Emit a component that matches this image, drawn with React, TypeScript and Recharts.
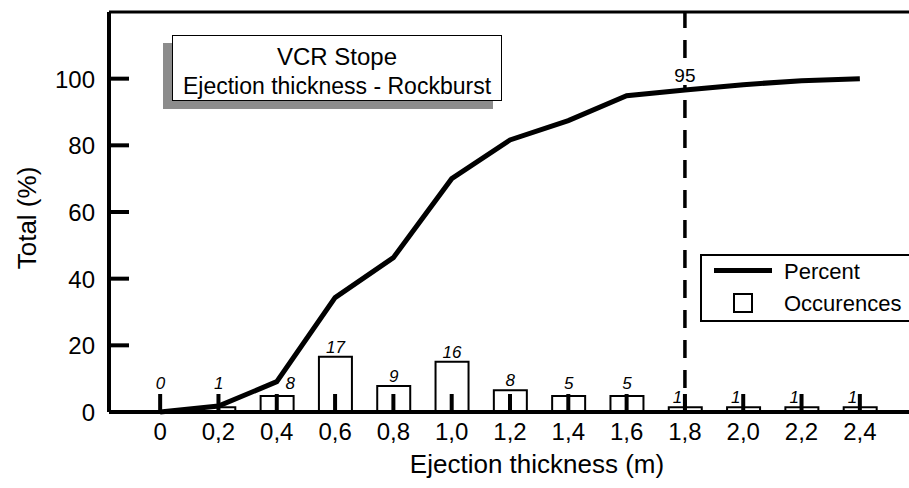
import React from "react";
import { ComposedChart, Bar, Line, XAxis, YAxis, ReferenceLine, LabelList, Legend } from "recharts";

const FONT = '"Liberation Sans", Arial, Helvetica, sans-serif';

// ejection thickness classes (m)
const categories = ["0", "0,2", "0,4", "0,6", "0,8", "1,0", "1,2", "1,4", "1,6", "1,8", "2,0", "2,2", "2,4"];
// number of occurences per class (bar labels)
const occurences = [0, 1, 8, 17, 9, 16, 8, 5, 5, 1, 1, 1, 1];
// bar heights as drawn on the % axis
const barHeights = [0, 1.4, 4.8, 16.6, 7.8, 15.1, 6.5, 4.8, 4.8, 1.4, 1.4, 1.4, 1.4];
// cumulative percent
const percent = [0, 1.8, 9.1, 34.3, 46.3, 70.0, 81.6, 87.4, 94.9, 96.6, 98.2, 99.4, 100];
const yTicks = [0, 20, 40, 60, 80, 100];
const markerX = "1,8";
const markerLabel = "95";

const data = categories.map((c, i) => ({
  x: c,
  id: "k" + i,
  bar: barHeights[i],
  percent: percent[i],
}));

const AXIS_Y = 412;

function XTick({ x, y, payload }: any) {
  return (
    <g>
      <line x1={x} x2={x} y1={y} y2={y - 18} stroke="#000" strokeWidth={4} />
      <text x={x} y={y + 28} textAnchor="middle" fontSize={24} fontFamily={FONT} fill="#000">
        {payload.value}
      </text>
    </g>
  );
}

function YTick({ x, y, payload }: any) {
  return (
    <g>
      <line x1={x} x2={x + 20} y1={y} y2={y} stroke="#000" strokeWidth={4} />
      <text x={x - 14} y={y + 9} textAnchor="end" fontSize={24} fontFamily={FONT} fill="#000">
        {payload.value}
      </text>
    </g>
  );
}

// occurence counts written above the bars
function CountLabel(props: any) {
  const vb = props.viewBox ?? props;
  const i = Number(String(props.value).slice(1));
  const cx = vb.x + vb.width / 2;
  const top = Math.min(vb.y, vb.y + vb.height);
  const style = { fontSize: 17, fontFamily: FONT, fontStyle: "italic" as const, fill: "#000" };
  if (i >= 9) {
    return (
      <text x={cx - 3} y={AXIS_Y - 9} textAnchor="end" {...style}>
        {occurences[i]}
      </text>
    );
  }
  const dx = i === 2 ? 13 : 0;
  return (
    <text x={cx + dx} y={Math.min(top - 4, AXIS_Y - 23)} textAnchor="middle" {...style}>
      {occurences[i]}
    </text>
  );
}

function MarkerLabel(props: any) {
  const x = props.viewBox.x;
  return (
    <g>
      <rect x={x - 14} y={64} width={28} height={21} fill="#fff" />
      <text x={x} y={82} textAnchor="middle" fontSize={19} fontFamily={FONT} fill="#000">
        {markerLabel}
      </text>
    </g>
  );
}

function LegendBox() {
  return (
    <div
      style={{
        boxSizing: "border-box",
        width: 209,
        height: 68,
        border: "2px solid #000",
        borderRight: "none",
        background: "#fff",
        position: "relative",
        fontFamily: FONT,
        fontSize: 22,
        color: "#000",
      }}
    >
      <div style={{ position: "absolute", left: 12, top: 12, width: 58, height: 5, background: "#000" }} />
      <div style={{ position: "absolute", left: 82, top: 0, lineHeight: "32px" }}>Percent</div>
      <div
        style={{
          position: "absolute",
          left: 31,
          top: 37,
          width: 20,
          height: 20,
          boxSizing: "border-box",
          border: "2px solid #000",
        }}
      />
      <div style={{ position: "absolute", left: 82, top: 32, lineHeight: "32px" }}>Occurences</div>
    </div>
  );
}

export default function App() {
  return (
    <div style={{ position: "absolute", left: 0, top: 0, width: 909, height: 488, background: "#fff" }}>
      <ComposedChart width={909} height={488} data={data} margin={{ top: 12, right: 0, left: 0, bottom: 0 }}>
        <ReferenceLine y={120} stroke="#000" strokeWidth={3} />
        <ReferenceLine
          x={markerX}
          stroke="#000"
          strokeWidth={3.5}
          strokeDasharray="18 12"
          strokeDashoffset={6}
          label={MarkerLabel}
        />
        <Legend
          verticalAlign="middle"
          content={LegendBox}
          wrapperStyle={{ left: 700, top: 254, width: 209, height: 68 }}
        />
        <Bar
          dataKey="bar"
          barSize={33}
          minPointSize={1}
          fill="none"
          stroke="#000"
          strokeWidth={2}
          isAnimationActive={false}
        >
          <LabelList dataKey="id" content={CountLabel} />
        </Bar>
        <Line
          dataKey="percent"
          type="linear"
          stroke="#000"
          strokeWidth={5}
          dot={false}
          activeDot={false}
          isAnimationActive={false}
        />
        <XAxis
          dataKey="x"
          height={76}
          padding={{ left: 22, right: 20 }}
          axisLine={{ stroke: "#000", strokeWidth: 4 }}
          tickLine={false}
          tickSize={0}
          tickMargin={0}
          interval={0}
          tick={XTick}
          label={() => (
            <text x={537} y={473} textAnchor="middle" fontSize={26} fontFamily={FONT} fill="#000">
              Ejection thickness (m)
            </text>
          )}
        />
        <YAxis
          width={109}
          domain={[0, 120]}
          ticks={yTicks}
          axisLine={{ stroke: "#000", strokeWidth: 4 }}
          tickLine={false}
          tickSize={0}
          tickMargin={0}
          tick={YTick}
          label={() => (
            <text
              x={0}
              y={0}
              transform="translate(36 218) rotate(-90)"
              textAnchor="middle"
              fontSize={26}
              fontFamily={FONT}
              fill="#000"
            >
              Total (%)
            </text>
          )}
        />
      </ComposedChart>
      <div
        style={{ position: "absolute", left: 163, top: 43, width: 330, height: 66, background: "#8c8c8c" }}
      />
      <div
        style={{
          position: "absolute",
          left: 172,
          top: 35,
          width: 330,
          height: 66,
          boxSizing: "border-box",
          border: "1.5px solid #000",
          background: "#fff",
          textAlign: "center",
          color: "#000",
          fontFamily: FONT,
        }}
      >
        <div style={{ fontSize: 24, lineHeight: "28px", marginTop: 7 }}>VCR Stope</div>
        <div style={{ fontSize: 23, lineHeight: "28px", marginTop: 1 }}>Ejection thickness - Rockburst</div>
      </div>
    </div>
  );
}
